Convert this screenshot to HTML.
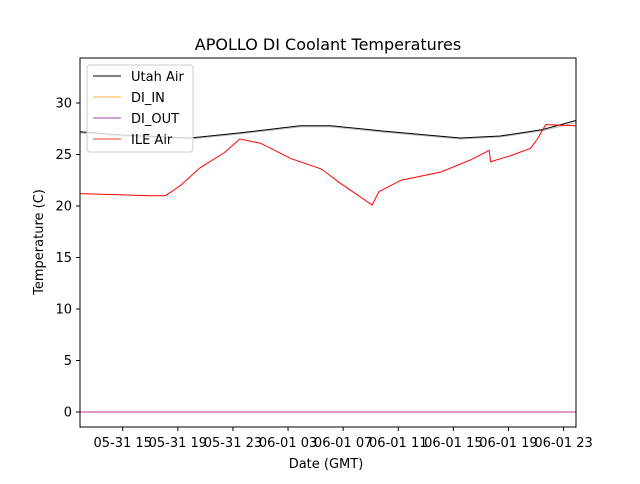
<!DOCTYPE html>
<html><head><meta charset="utf-8"><style>
body{margin:0;background:#fff;font-family:"DejaVu Sans","Liberation Sans",sans-serif}
</style></head><body>
<svg id="c" width="640" height="480" xmlns="http://www.w3.org/2000/svg"></svg>
<script>
const tickHours=[15,19,23,27,31,35,39,43,47];
const tickLabels=["05-31 15","05-31 19","05-31 23","06-01 03","06-01 07","06-01 11","06-01 15","06-01 19","06-01 23"];
const yTicks=[0,5,10,15,20,25,30];
const utahHours=[11.9,14.8,19.9,23.5,27.9,30.1,33.7,39.5,42.4,45.4,47.9];
const utahVals=[27.2,26.9,26.6,27.1,27.8,27.8,27.3,26.6,26.8,27.4,28.3];
const diInVals=[27.1,26.8,26.5,27.0,27.7,27.7,27.2,26.5,26.7,27.3,28.1];
const ileHours=[11.9,17.0,18.1,19.2,20.6,22.4,23.5,25.0,27.2,29.4,30.8,33.1,33.6,35.2,38.1,40.3,41.6,41.7,43.2,44.6,45.1,45.7,47.9];
const ileVals=[21.2,21.0,21.0,22.0,23.7,25.2,26.5,26.1,24.6,23.6,22.2,20.1,21.4,22.5,23.3,24.5,25.4,24.3,24.9,25.6,26.5,27.9,27.8];
const diOutHours=[11.9,47.9];
const diOutVals=[0,0];
const L=80,R=576,T=58,B=427;
const x=h=>L+(h-11.9)/(47.9-11.9)*(R-L);
const y=v=>412-v*10.3;
const svg=document.getElementById('c');
const NS="http://www.w3.org/2000/svg";
function mk(t,a,txt){const e=document.createElementNS(NS,t);for(const k in a)e.setAttribute(k,a[k]);if(txt!=null)e.textContent=txt;svg.appendChild(e);return e;}
let e=mk('text',{x:328,y:50,'text-anchor':'middle','font-size':16},'APOLLO DI Coolant Temperatures');


function line(hs,vs,col,name){const p=hs.map((h,i)=>x(h).toFixed(1)+','+y(vs[i]).toFixed(1)).join(' ');const el=mk('polyline',{points:p,fill:'none',stroke:col,'stroke-width':1});

}
line(diOutHours,diOutVals,'#c0308f','di-out-line');
line(utahHours,diInVals,'#b8b8b8','di-in-line');
line(utahHours,utahVals,'#000','utah-air-line');
line(ileHours,ileVals,'#ff0000','ile-air-line');
e=mk('rect',{x:L,y:T,width:R-L,height:B-T,fill:'none',stroke:'#000','stroke-width':1});


yTicks.forEach(v=>{mk('line',{x1:L-4,x2:L,y1:y(v),y2:y(v),stroke:'#000'});
const t=mk('text',{x:L-8,y:y(v)+4.5,'text-anchor':'end','font-size':13},String(v));

});
tickHours.forEach((h,i)=>{mk('line',{x1:x(h),x2:x(h),y1:B,y2:B+4,stroke:'#000'});
const t=mk('text',{x:x(h),y:B+20,'text-anchor':'middle','font-size':13},tickLabels[i]);

});
e=mk('text',{x:326,y:468,'text-anchor':'middle','font-size':13},'Date (GMT)');


e=mk('text',{x:43,y:242,'text-anchor':'middle','font-size':13,transform:'rotate(-90 43 242)'},'Temperature (C)');


e=mk('rect',{x:87,y:65,width:106,height:87,rx:3,fill:'#fff','fill-opacity':0.8,stroke:'#ccc'});


const legNames=['Utah Air','DI_IN','DI_OUT','ILE Air'];
const legCols=['#000','#f5b041','#a040a0','#e84040'];
legNames.forEach((n,i)=>{const yy=76+i*21;mk('line',{x1:93,x2:121,y1:yy,y2:yy,stroke:legCols[i]});
const t=mk('text',{x:131,y:yy+5,'font-size':13},n);

});
</script>
</body></html>
